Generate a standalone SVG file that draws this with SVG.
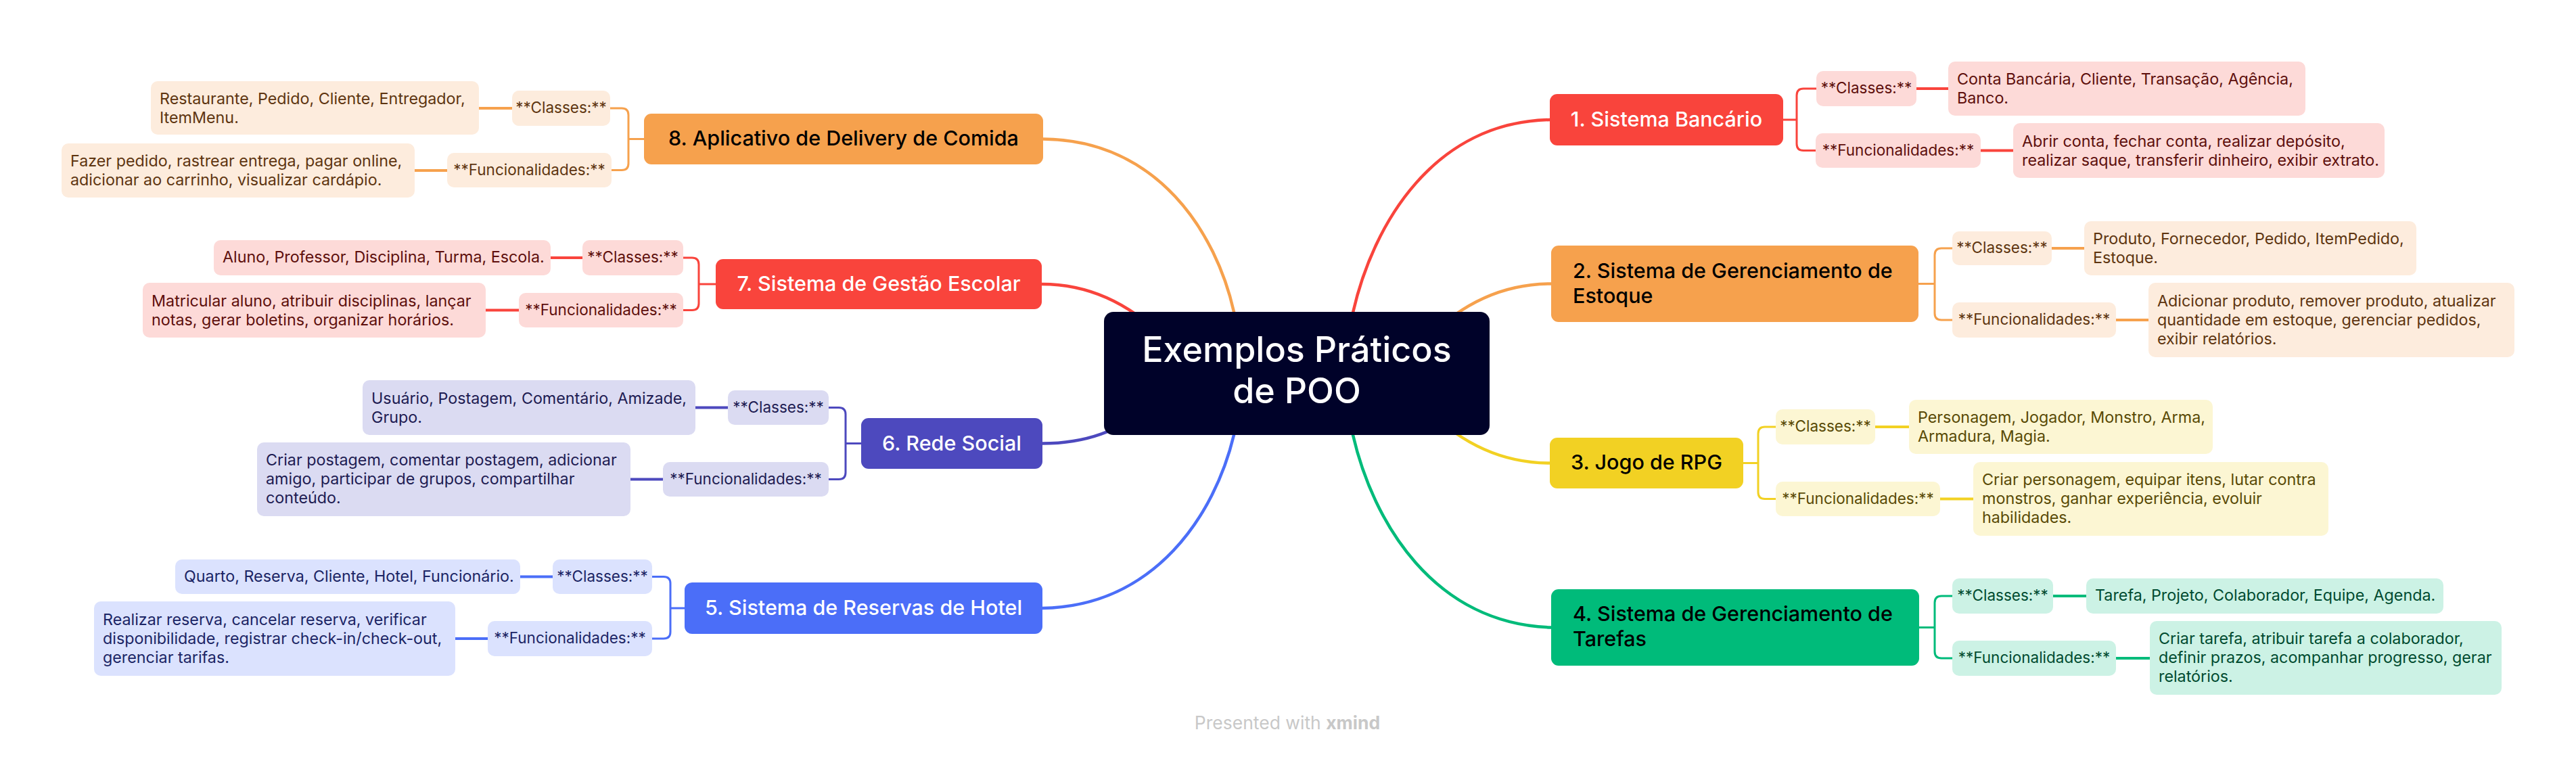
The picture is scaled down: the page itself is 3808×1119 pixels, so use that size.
<svg xmlns="http://www.w3.org/2000/svg" width="3808" height="1119" viewBox="0 0 3808 1119">
<style>
text{font-family:Inter,"Noto Sans","Liberation Sans",sans-serif}
.bt{font-size:30.5px;font-weight:500}
.ct{font-size:52px;font-weight:500;fill:#fff}
.st{font-size:22.5px;text-anchor:middle}
.dt{font-size:23.3px}
.w{fill:#fff}.k{fill:#000}
.mid{text-anchor:middle}
.cc{fill:none;stroke-width:4.5;stroke-linecap:round}
.bl{fill:none;stroke-width:3}
.dl{fill:none;stroke-width:4}
.red{stroke:#F9443C}.org{stroke:#F6A14D}.yel{stroke:#F2D123}.grn{stroke:#00BB7A}.ind{stroke:#4D49BE}.blu{stroke:#4B6EF8}
.fred{fill:#F9443C}.forg{fill:#F6A14D}.fyel{fill:#F2D123}.fgrn{fill:#00BB7A}.find{fill:#4D49BE}.fblu{fill:#4B6EF8}
.lred{fill:#FDDAD8}.lorg{fill:#FDECDD}.lyel{fill:#FCF6D3}.lgrn{fill:#CCF2E5}.lind{fill:#DBDBF2}.lblu{fill:#DBE2FE}
.tred{fill:#5E0F0C}.torg{fill:#5E3510}.tyel{fill:#594A06}.tgrn{fill:#004B30}.tind{fill:#1E1C52}.tblu{fill:#1B2565}
</style>
<rect width="3808" height="1119" fill="#fff"/>
<g id="connectors">
<path class="cc red" d="M 1990 506 L 2000 462 C 2030 330 2120 180 2292 177"/>
<path class="cc org" d="M 2110 500 C 2160 450 2220 419.5 2293 419.5"/>
<path class="cc yel" d="M 2110 605 C 2160 655 2220 684.5 2291 684.5"/>
<path class="cc grn" d="M 1990 600 L 2000 643 C 2030 773 2120 922 2293 927.5"/>
<path class="cc org" d="M 1834 505 L 1824 461 C 1798 345 1712 207 1542 205.5"/>
<path class="cc red" d="M 1721 500 C 1671 450 1611 420 1540 420"/>
<path class="cc ind" d="M 1700 600 C 1655 637 1605 655.5 1541 655.5"/>
<path class="cc blu" d="M 1834 600 L 1824 643 C 1796 760 1708 896 1541 899"/>

<path class="bl red" d="M 2636 177 H 2656 M 2656 177 V 141 Q 2656 131 2666 131 H 2685 M 2656 177 V 212.5 Q 2656 222.5 2666 222.5 H 2684"/>
<path class="dl red" d="M 2833 131 H 2880 M 2928 222.5 H 2976"/>
<path class="bl org" d="M 2836 419.5 H 2860 M 2860 419.5 V 377 Q 2860 367 2870 367 H 2886 M 2860 419.5 V 463 Q 2860 473 2870 473 H 2886"/>
<path class="dl org" d="M 3033 367 H 3081 M 3128 473 H 3176"/>
<path class="bl yel" d="M 2577 684.5 H 2599 M 2599 684.5 V 641 Q 2599 631 2609 631 H 2625 M 2599 684.5 V 727.5 Q 2599 737.5 2609 737.5 H 2625"/>
<path class="dl yel" d="M 2772 631 H 2822 M 2868 737.5 H 2917"/>
<path class="bl grn" d="M 2837 927.5 H 2860 M 2860 927.5 V 891 Q 2860 881 2870 881 H 2886 M 2860 927.5 V 963 Q 2860 973 2870 973 H 2886"/>
<path class="dl grn" d="M 3035 881 H 3084 M 3128 973 H 3178"/>

<path class="bl org" d="M 952 205.5 H 929 M 929 205.5 V 170 Q 929 160 919 160 H 902 M 929 205.5 V 241.5 Q 929 251.5 919 251.5 H 904"/>
<path class="dl org" d="M 757 160 H 708 M 661 252 H 613"/>
<path class="bl red" d="M 1058 420 H 1033 M 1033 420 V 391 Q 1033 381 1023 381 H 1010 M 1033 420 V 448.5 Q 1033 458.5 1023 458.5 H 1010"/>
<path class="dl red" d="M 861 381 H 814 M 767 458.5 H 718"/>
<path class="bl ind" d="M 1273 655.5 H 1250 M 1250 655.5 V 612.5 Q 1250 602.5 1240 602.5 H 1225 M 1250 655.5 V 698.5 Q 1250 708.5 1240 708.5 H 1225"/>
<path class="dl ind" d="M 1076 602.5 H 1028 M 980 708.5 H 932"/>
<path class="bl blu" d="M 1012 899 H 991 M 991 899 V 862.5 Q 991 852.5 981 852.5 H 964 M 991 899 V 934 Q 991 944 981 944 H 964"/>
<path class="dl blu" d="M 817 852.5 H 769 M 721 944 H 673"/>
</g>

<g id="center">
<rect x="1632" y="461" width="570" height="182" rx="14" fill="#000229"/>
<text class="ct mid" x="1917" y="535">Exemplos Práticos</text>
<text class="ct mid" x="1917" y="596">de POO</text>
</g>

<g id="b1">
<rect class="fred" x="2291" y="139" width="345" height="76" rx="11"/>
<text class="bt w mid" x="2463.5" y="187">1. Sistema Bancário</text>
</g>
<g id="b1-classes">
<rect class="lred" x="2685" y="105" width="148" height="52" rx="10"/>
<text class="st tred" x="2759" y="138">**Classes:**</text>
</g>
<g id="b1-classes-d">
<rect class="lred" x="2880" y="91" width="528" height="80" rx="10"/>
<text class="dt tred" x="2893" y="125">Conta Bancária, Cliente, Transação, Agência,</text>
<text class="dt tred" x="2893" y="153">Banco.</text>
</g>
<g id="b1-func">
<rect class="lred" x="2684" y="197" width="244" height="51" rx="10"/>
<text class="st tred" x="2806" y="229.5">**Funcionalidades:**</text>
</g>
<g id="b1-func-d">
<rect class="lred" x="2976" y="182" width="549" height="81" rx="10"/>
<text class="dt tred" x="2989" y="217">Abrir conta, fechar conta, realizar depósito,</text>
<text class="dt tred" x="2989" y="245">realizar saque, transferir dinheiro, exibir extrato.</text>
</g>

<g id="b2">
<rect class="forg" x="2293" y="363" width="543" height="113" rx="11"/>
<text class="bt k" x="2325" y="411">2. Sistema de Gerenciamento de</text>
<text class="bt k" x="2325" y="448">Estoque</text>
</g>
<g id="b2-classes">
<rect class="lorg" x="2886" y="342" width="147" height="50" rx="10"/>
<text class="st torg" x="2959.5" y="374">**Classes:**</text>
</g>
<g id="b2-classes-d">
<rect class="lorg" x="3081" y="327" width="491" height="80" rx="10"/>
<text class="dt torg" x="3094" y="361">Produto, Fornecedor, Pedido, ItemPedido,</text>
<text class="dt torg" x="3094" y="389">Estoque.</text>
</g>
<g id="b2-func">
<rect class="lorg" x="2886" y="447" width="242" height="52" rx="10"/>
<text class="st torg" x="3007" y="480">**Funcionalidades:**</text>
</g>
<g id="b2-func-d">
<rect class="lorg" x="3176" y="418" width="541" height="110" rx="10"/>
<text class="dt torg" x="3189" y="453">Adicionar produto, remover produto, atualizar</text>
<text class="dt torg" x="3189" y="481">quantidade em estoque, gerenciar pedidos,</text>
<text class="dt torg" x="3189" y="509">exibir relatórios.</text>
</g>

<g id="b3">
<rect class="fyel" x="2291" y="647" width="286" height="75" rx="11"/>
<text class="bt k mid" x="2434" y="694">3. Jogo de RPG</text>
</g>
<g id="b3-classes">
<rect class="lyel" x="2625" y="605" width="147" height="52" rx="10"/>
<text class="st tyel" x="2698.5" y="638">**Classes:**</text>
</g>
<g id="b3-classes-d">
<rect class="lyel" x="2822" y="591" width="449" height="80" rx="10"/>
<text class="dt tyel" x="2835" y="625">Personagem, Jogador, Monstro, Arma,</text>
<text class="dt tyel" x="2835" y="653">Armadura, Magia.</text>
</g>
<g id="b3-func">
<rect class="lyel" x="2625" y="712" width="243" height="51" rx="10"/>
<text class="st tyel" x="2746.5" y="745">**Funcionalidades:**</text>
</g>
<g id="b3-func-d">
<rect class="lyel" x="2917" y="683" width="525" height="109" rx="10"/>
<text class="dt tyel" x="2930" y="717">Criar personagem, equipar itens, lutar contra</text>
<text class="dt tyel" x="2930" y="745">monstros, ganhar experiência, evoluir</text>
<text class="dt tyel" x="2930" y="773">habilidades.</text>
</g>

<g id="b4">
<rect class="fgrn" x="2293" y="871" width="544" height="113" rx="11"/>
<text class="bt k" x="2325" y="918">4. Sistema de Gerenciamento de</text>
<text class="bt k" x="2325" y="955">Tarefas</text>
</g>
<g id="b4-classes">
<rect class="lgrn" x="2886" y="855" width="149" height="52" rx="10"/>
<text class="st tgrn" x="2960.5" y="888">**Classes:**</text>
</g>
<g id="b4-classes-d">
<rect class="lgrn" x="3084" y="855" width="528" height="52" rx="10"/>
<text class="dt tgrn" x="3097" y="888">Tarefa, Projeto, Colaborador, Equipe, Agenda.</text>
</g>
<g id="b4-func">
<rect class="lgrn" x="2886" y="947" width="242" height="52" rx="10"/>
<text class="st tgrn" x="3007" y="980">**Funcionalidades:**</text>
</g>
<g id="b4-func-d">
<rect class="lgrn" x="3178" y="918" width="520" height="109" rx="10"/>
<text class="dt tgrn" x="3191" y="952">Criar tarefa, atribuir tarefa a colaborador,</text>
<text class="dt tgrn" x="3191" y="980">definir prazos, acompanhar progresso, gerar</text>
<text class="dt tgrn" x="3191" y="1008">relatórios.</text>
</g>

<g id="b8">
<rect class="forg" x="952" y="168" width="590" height="75" rx="11"/>
<text class="bt k mid" x="1247" y="215">8. Aplicativo de Delivery de Comida</text>
</g>
<g id="b8-classes">
<rect class="lorg" x="757" y="134" width="145" height="52" rx="10"/>
<text class="st torg" x="829.5" y="167">**Classes:**</text>
</g>
<g id="b8-classes-d">
<rect class="lorg" x="223" y="120" width="485" height="79" rx="10"/>
<text class="dt torg" x="236" y="153.5">Restaurante, Pedido, Cliente, Entregador,</text>
<text class="dt torg" x="236" y="181.5">ItemMenu.</text>
</g>
<g id="b8-func">
<rect class="lorg" x="661" y="226" width="243" height="51" rx="10"/>
<text class="st torg" x="782.5" y="258.5">**Funcionalidades:**</text>
</g>
<g id="b8-func-d">
<rect class="lorg" x="91" y="212" width="522" height="80" rx="10"/>
<text class="dt torg" x="104" y="246">Fazer pedido, rastrear entrega, pagar online,</text>
<text class="dt torg" x="104" y="274">adicionar ao carrinho, visualizar cardápio.</text>
</g>

<g id="b7">
<rect class="fred" x="1058" y="383" width="482" height="74" rx="11"/>
<text class="bt w mid" x="1299" y="430">7. Sistema de Gestão Escolar</text>
</g>
<g id="b7-classes">
<rect class="lred" x="861" y="355" width="149" height="52" rx="10"/>
<text class="st tred" x="935.5" y="388">**Classes:**</text>
</g>
<g id="b7-classes-d">
<rect class="lred" x="316" y="355" width="498" height="52" rx="10"/>
<text class="dt tred" x="329" y="388">Aluno, Professor, Disciplina, Turma, Escola.</text>
</g>
<g id="b7-func">
<rect class="lred" x="767" y="433" width="243" height="51" rx="10"/>
<text class="st tred" x="888.5" y="465.5">**Funcionalidades:**</text>
</g>
<g id="b7-func-d">
<rect class="lred" x="211" y="418" width="507" height="81" rx="10"/>
<text class="dt tred" x="224" y="452.5">Matricular aluno, atribuir disciplinas, lançar</text>
<text class="dt tred" x="224" y="480.5">notas, gerar boletins, organizar horários.</text>
</g>

<g id="b6">
<rect class="find" x="1273" y="618" width="268" height="75" rx="11"/>
<text class="bt w mid" x="1407" y="665.5">6. Rede Social</text>
</g>
<g id="b6-classes">
<rect class="lind" x="1076" y="577" width="149" height="51" rx="10"/>
<text class="st tind" x="1150.5" y="609.5">**Classes:**</text>
</g>
<g id="b6-classes-d">
<rect class="lind" x="536" y="562" width="492" height="81" rx="10"/>
<text class="dt tind" x="549" y="596.5">Usuário, Postagem, Comentário, Amizade,</text>
<text class="dt tind" x="549" y="624.5">Grupo.</text>
</g>
<g id="b6-func">
<rect class="lind" x="980" y="683" width="245" height="51" rx="10"/>
<text class="st tind" x="1102.5" y="715.5">**Funcionalidades:**</text>
</g>
<g id="b6-func-d">
<rect class="lind" x="380" y="654" width="552" height="109" rx="10"/>
<text class="dt tind" x="393" y="688">Criar postagem, comentar postagem, adicionar</text>
<text class="dt tind" x="393" y="716">amigo, participar de grupos, compartilhar</text>
<text class="dt tind" x="393" y="744">conteúdo.</text>
</g>

<g id="b5">
<rect class="fblu" x="1012" y="861" width="529" height="76" rx="11"/>
<text class="bt w mid" x="1276.5" y="909">5. Sistema de Reservas de Hotel</text>
</g>
<g id="b5-classes">
<rect class="lblu" x="817" y="827" width="147" height="51" rx="10"/>
<text class="st tblu" x="890.5" y="859.5">**Classes:**</text>
</g>
<g id="b5-classes-d">
<rect class="lblu" x="259" y="827" width="510" height="51" rx="10"/>
<text class="dt tblu" x="272" y="859.5">Quarto, Reserva, Cliente, Hotel, Funcionário.</text>
</g>
<g id="b5-func">
<rect class="lblu" x="721" y="918" width="243" height="52" rx="10"/>
<text class="st tblu" x="842.5" y="951">**Funcionalidades:**</text>
</g>
<g id="b5-func-d">
<rect class="lblu" x="139" y="889" width="534" height="110" rx="10"/>
<text class="dt tblu" x="152" y="923.5">Realizar reserva, cancelar reserva, verificar</text>
<text class="dt tblu" x="152" y="951.5">disponibilidade, registrar check-in/check-out,</text>
<text class="dt tblu" x="152" y="979.5">gerenciar tarifas.</text>
</g>

<text x="1903" y="1078" text-anchor="middle" font-size="26.5" fill="#C8C8C8">Presented with <tspan font-weight="700">xmind</tspan></text>
</svg>
